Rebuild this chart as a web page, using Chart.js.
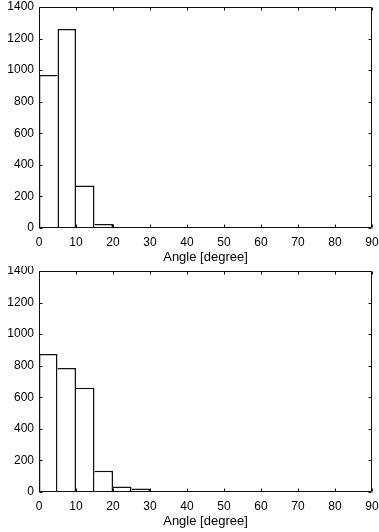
<!DOCTYPE html>
<html>
<head>
<meta charset="utf-8">
<script src="https://cdn.jsdelivr.net/npm/chart.js"></script>
<style>
  html, body { margin: 0; padding: 0; background: #fff; }
  canvas { display: block; }
</style>
</head>
<body>
<canvas id="chart1" width="379" height="266"></canvas>
<canvas id="chart2" width="379" height="266"></canvas>
<script>
// histogram bins (centre of each 5 degree bin)
const binCenters = [2.5, 7.5, 12.5, 17.5, 22.5, 27.5, 32.5, 37.5, 42.5, 47.5, 52.5, 57.5, 62.5, 67.5, 72.5, 77.5, 82.5, 87.5];
const counts1 = [970, 1260, 270, 25, 2, 1, 0, 0, 0, 0, 0, 0, 0, 0, 0, 0, 0, 0];
const counts2 = [875, 785, 660, 135, 35, 22, 5, 4, 3, 2, 2, 1, 1, 1, 1, 0, 0, 0];
const xTickStep = 10;
const yTickStep = 200;
const xLabel = 'Angle [degree]';

Chart.defaults.font.family = "'Liberation Sans', Arial, Helvetica, sans-serif";
Chart.defaults.font.size = 12;
Chart.defaults.color = '#000';

// matlab style box with inward ticks
const boxPlugin = {
    id: 'box',
    afterDraw(chart) {
        const ctx = chart.ctx;
        const a = chart.chartArea;
        const l = Math.round(a.left) + 0.5, r = Math.round(a.right) - 0.5;
        const t = Math.round(a.top) + 0.5, b = Math.round(a.bottom) - 0.5;
        ctx.save();
        ctx.strokeStyle = '#111';
        ctx.lineWidth = 1;
        ctx.beginPath();
        ctx.rect(l, t, r - l, b - t);
        chart.scales.x.ticks.forEach(tk => {
            const px = Math.round(chart.scales.x.getPixelForValue(tk.value)) + 0.5;
            ctx.moveTo(px, b); ctx.lineTo(px, b - 3);
            ctx.moveTo(px, t); ctx.lineTo(px, t + 3);
        });
        chart.scales.y.ticks.forEach(tk => {
            const py = Math.round(chart.scales.y.getPixelForValue(tk.value)) + 0.5;
            ctx.moveTo(l, py); ctx.lineTo(l + 3, py);
            ctx.moveTo(r, py); ctx.lineTo(r - 3, py);
        });
        ctx.stroke();
        ctx.restore();
    }
};

function makeHist(id, counts, pad) {
    const pts = binCenters.map((c, i) => ({x: c, y: counts[i]}));
    // shared edges drawn once, by the taller bar
    const bw = ctx => {
        const i = ctx.dataIndex;
        const v = counts[i];
        const prev = i > 0 ? counts[i - 1] : -1;
        const next = i < counts.length - 1 ? counts[i + 1] : -1;
        return {top: 1.5, bottom: 0, left: v > prev ? 1.5 : 0, right: v >= next ? 1.5 : 0};
    };
    return new Chart(id, {
        type: 'bar',
        data: {
            datasets: [{
                data: pts,
                backgroundColor: '#fff',
                borderColor: '#111',
                borderWidth: bw,
                inflateAmount: 0,
                barPercentage: 1,
                categoryPercentage: 1
            }]
        },
        options: {
            responsive: false,
            animation: false,
            layout: {padding: pad},
            plugins: {legend: {display: false}, tooltip: {enabled: false}},
            scales: {
                x: {
                    type: 'linear',
                    min: 0,
                    max: 90,
                    offset: false,
                    grid: {display: false, drawTicks: false},
                    border: {display: false},
                    ticks: {stepSize: xTickStep, padding: 7, maxRotation: 0, callback: v => String(v)},
                    title: {display: true, text: xLabel, font: {size: 13}, padding: {top: 0, bottom: 1}},
                    afterFit(s) { s.height = 38; s.paddingLeft = 0; s.paddingRight = 0; }
                },
                y: {
                    min: 0,
                    max: 1400,
                    grid: {display: false, drawTicks: false},
                    border: {display: false},
                    ticks: {stepSize: yTickStep, padding: 5, callback: v => String(v)},
                    afterFit(s) { s.width = 39; s.paddingTop = 0; s.paddingBottom = 0; }
                }
            }
        },
        plugins: [boxPlugin]
    });
}

makeHist('chart1', counts1, {top: 7, right: 7, bottom: 0, left: 0});
makeHist('chart2', counts2, {top: 5, right: 7, bottom: 2, left: 0});
</script>
</body>
</html>
